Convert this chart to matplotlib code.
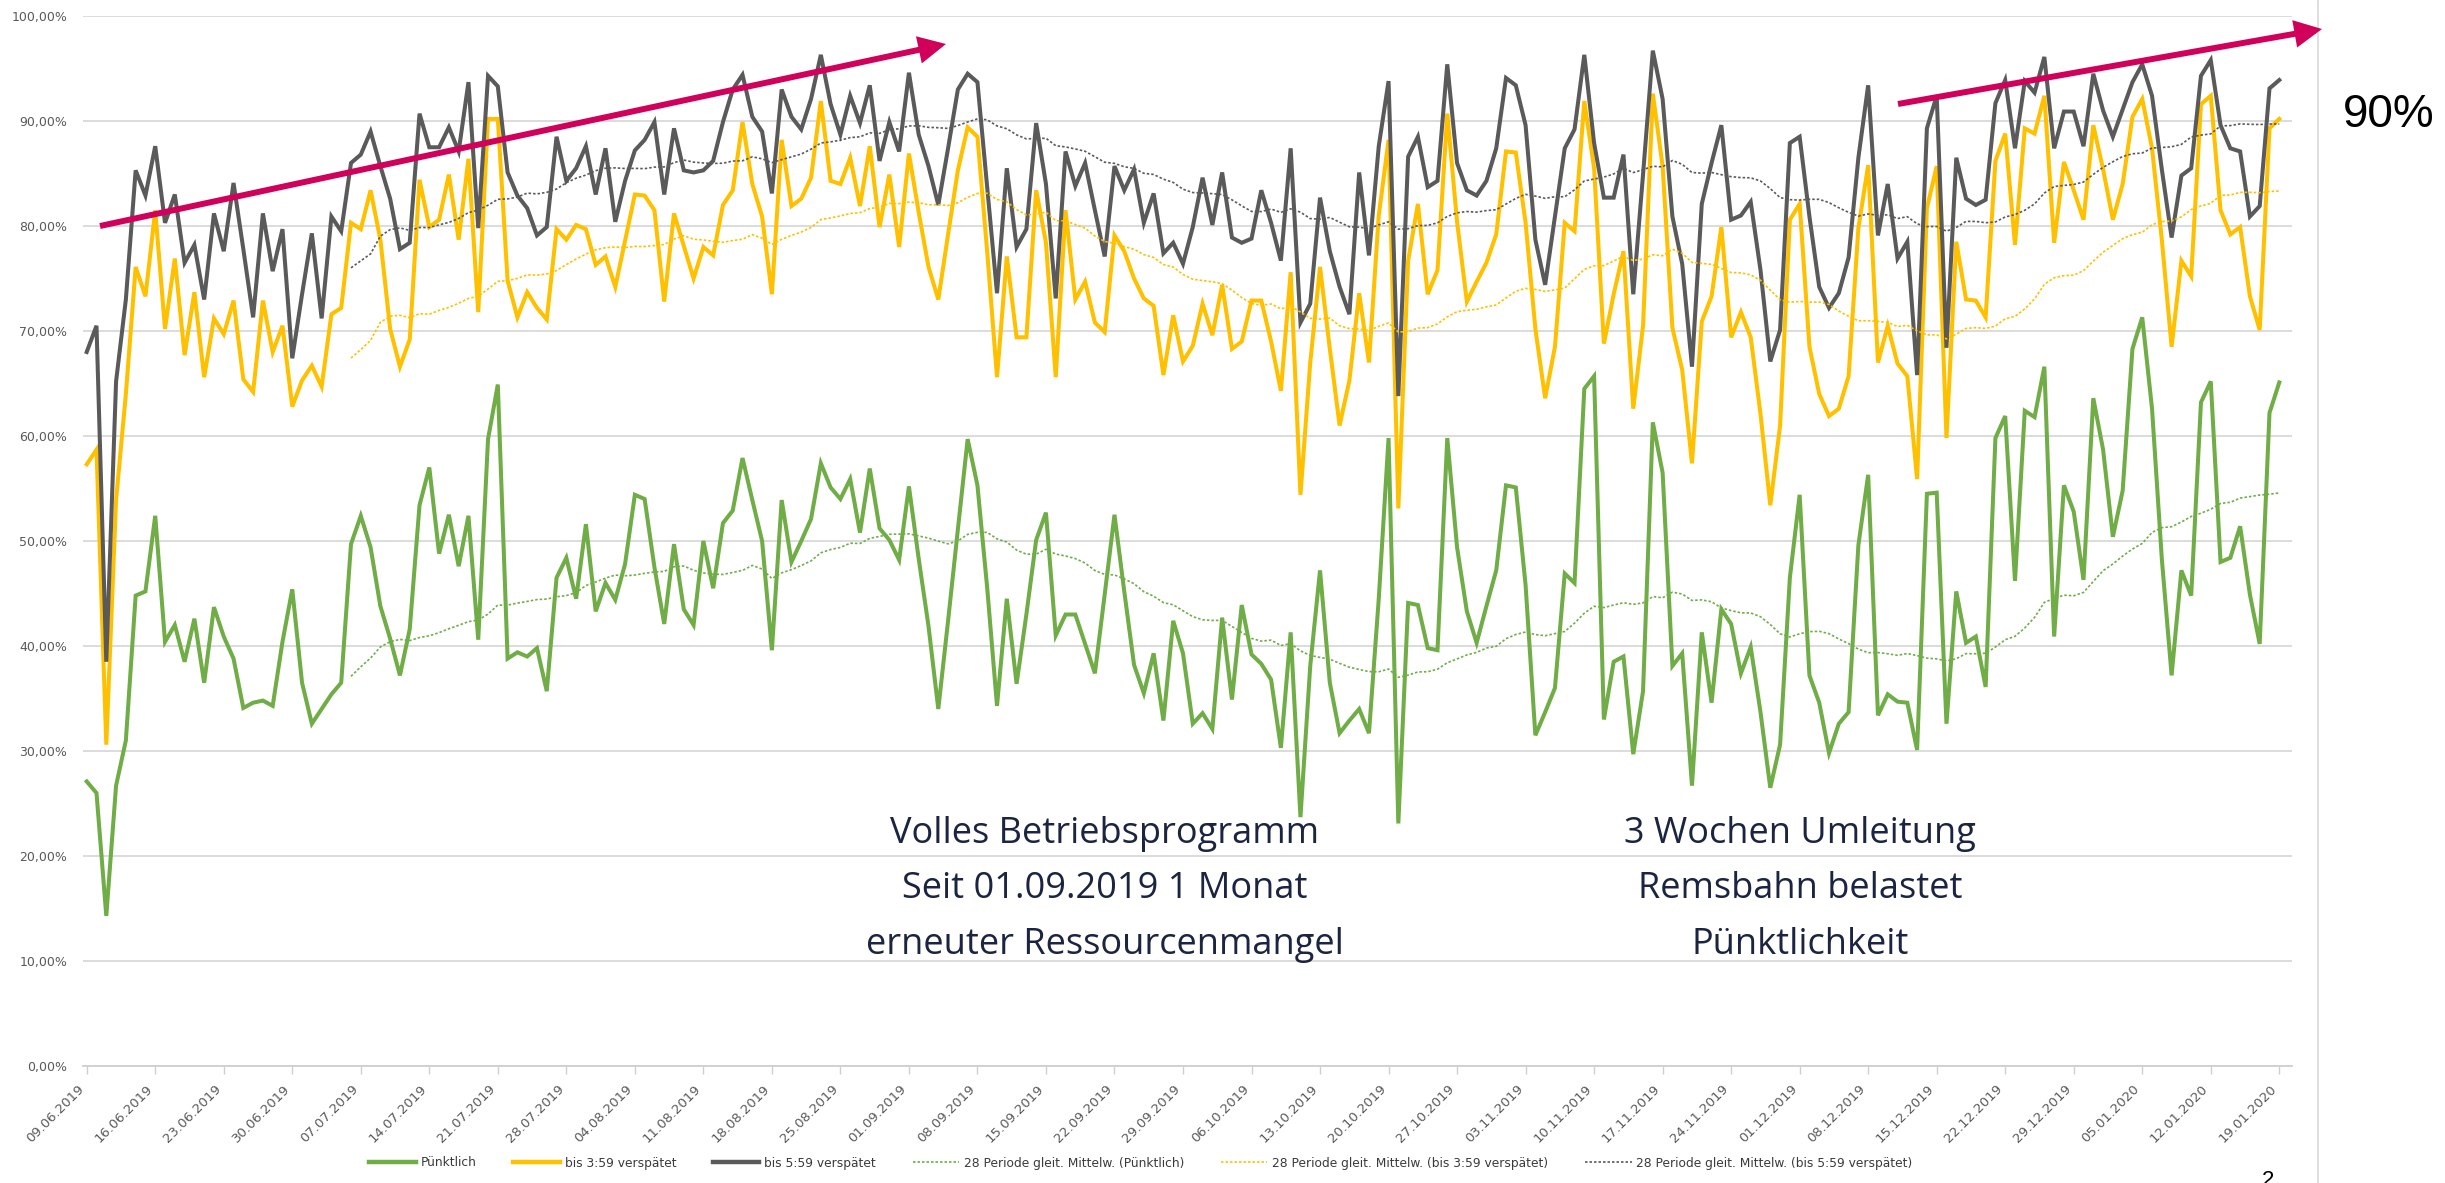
import numpy as np
import pandas as pd
import matplotlib
matplotlib.use("Agg")
import matplotlib.pyplot as plt
from matplotlib.patches import FancyArrowPatch
from matplotlib.lines import Line2D


# ======================================
# DATA (daily values in percent)
# ======================================

start_date = "2019-06-09"
n_days = 225

puenktlich = [
    27.1, 26.0, 14.3, 26.7, 31.0, 44.8, 45.2, 52.4, 40.4, 42.0,
    38.5, 42.6, 36.5, 43.7, 40.9, 38.8, 34.1, 34.6, 34.8, 34.3,
    40.4, 45.4, 36.5, 32.6, 34.0, 35.4, 36.5, 49.7, 52.4, 49.4,
    43.8, 40.7, 37.2, 41.6, 53.4, 57.0, 48.8, 52.5, 47.6, 52.4,
    40.6, 59.7, 64.9, 38.8, 39.4, 39.0, 39.8, 35.7, 46.5, 48.4,
    44.5, 51.6, 43.3, 46.0, 44.4, 47.8, 54.4, 54.0, 47.5, 42.1,
    49.7, 43.5, 42.0, 50.0, 45.5, 51.7, 52.9, 57.9, 53.9, 50.0,
    39.6, 53.9, 48.0, 50.0, 52.1, 57.4, 55.1, 54.0, 55.9, 50.8,
    56.9, 51.2, 50.1, 48.2, 55.2, 48.3, 41.9, 34.0, 42.4, 51.1,
    59.7, 55.3, 45.5, 34.3, 44.5, 36.4, 43.0, 50.1, 52.7, 41.0,
    43.0, 43.0, 40.2, 37.4, 44.9, 52.5, 45.2, 38.2, 35.5, 39.3,
    32.9, 42.4, 39.3, 32.6, 33.6, 32.1, 42.7, 34.9, 43.9, 39.2,
    38.3, 36.8, 30.3, 41.3, 23.7, 38.1, 47.2, 36.5, 31.7, 32.9,
    34.0, 31.7, 44.5, 59.8, 23.1, 44.1, 43.9, 39.8, 39.6, 59.8,
    49.4, 43.3, 40.3, 43.8, 47.2, 55.3, 55.1, 45.8, 31.5, 33.7,
    36.0, 46.9, 46.0, 64.5, 65.7, 33.0, 38.5, 39.0, 29.7, 35.7,
    61.3, 56.5, 38.1, 39.3, 26.7, 41.3, 34.6, 43.5, 42.1, 37.4,
    39.9, 33.7, 26.5, 30.6, 46.5, 54.4, 37.2, 34.6, 29.8, 32.6,
    33.7, 49.6, 56.3, 33.4, 35.4, 34.7, 34.6, 30.1, 54.5, 54.6,
    32.6, 45.2, 40.3, 40.9, 36.1, 59.8, 61.9, 46.2, 62.4, 61.8,
    66.6, 40.9, 55.3, 52.8, 46.3, 63.6, 58.7, 50.4, 54.8, 68.3,
    71.3, 62.6, 48.3, 37.2, 47.2, 44.8, 63.2, 65.2, 48.0, 48.4,
    51.4, 44.9, 40.2, 62.2, 65.1,
]

bis_359 = [
    57.3, 58.7, 30.6, 53.9, 64.0, 76.1, 73.3, 81.5, 70.2, 76.9,
    67.7, 73.7, 65.6, 71.2, 69.7, 72.9, 65.4, 64.2, 72.9, 68.0,
    70.5, 62.8, 65.3, 66.7, 64.7, 71.6, 72.2, 80.3, 79.7, 83.4,
    78.7, 70.2, 66.6, 69.2, 84.4, 79.9, 80.6, 84.9, 78.7, 86.4,
    71.8, 90.2, 90.2, 74.8, 71.3, 73.7, 72.2, 71.1, 79.7, 78.7,
    80.1, 79.7, 76.3, 77.1, 74.2, 78.6, 83.0, 82.9, 81.5, 72.8,
    81.2, 78.1, 75.0, 78.0, 77.2, 82.0, 83.4, 89.9, 84.0, 80.9,
    73.5, 88.2, 81.9, 82.6, 84.6, 91.9, 84.3, 84.0, 86.5, 81.9,
    87.6, 79.9, 84.9, 78.0, 86.9, 81.3, 76.1, 73.0, 79.2, 85.3,
    89.4, 88.5, 77.5, 65.6, 77.1, 69.4, 69.4, 83.4, 78.4, 65.6,
    81.5, 73.0, 74.7, 70.8, 69.9, 79.1, 77.6, 75.0, 73.1, 72.4,
    65.8, 71.5, 67.1, 68.6, 72.6, 69.6, 74.4, 68.3, 69.0, 72.9,
    72.9, 69.0, 64.3, 75.6, 54.4, 67.0, 76.1, 68.3, 61.0, 65.3,
    73.6, 67.0, 81.0, 88.2, 53.1, 76.7, 82.1, 73.5, 75.8, 90.7,
    80.4, 72.8, 74.7, 76.5, 79.2, 87.1, 87.0, 80.3, 70.2, 63.6,
    68.5, 80.3, 79.5, 91.9, 85.5, 68.8, 73.5, 77.6, 62.6, 70.5,
    92.6, 85.7, 70.3, 66.3, 57.4, 70.9, 73.3, 79.9, 69.4, 71.8,
    69.4, 62.1, 53.4, 61.0, 80.6, 82.1, 68.5, 64.0, 61.9, 62.6,
    65.7, 79.8, 85.8, 67.0, 70.5, 66.9, 65.7, 55.9, 81.7, 85.7,
    59.8, 78.5, 73.0, 72.9, 71.3, 86.2, 88.8, 78.2, 89.3, 88.8,
    92.4, 78.4, 86.1, 83.4, 80.6, 89.6, 85.4, 80.6, 84.0, 90.4,
    92.1, 87.4, 78.7, 68.5, 76.7, 75.2, 91.6, 92.4, 81.5, 79.2,
    79.9, 73.3, 70.1, 89.3, 90.2,
]

bis_559 = [
    68.0, 70.5, 38.5, 65.2, 73.0, 85.3, 82.9, 87.6, 80.3, 83.0,
    76.5, 78.2, 73.0, 81.2, 77.6, 84.1, 77.8, 71.3, 81.2, 75.7,
    79.7, 67.4, 73.5, 79.3, 71.2, 80.9, 79.5, 86.0, 86.8, 89.0,
    85.7, 82.6, 77.8, 78.4, 90.7, 87.5, 87.5, 89.4, 87.1, 93.7,
    79.8, 94.3, 93.3, 85.1, 82.9, 81.7, 79.1, 79.9, 88.5, 84.3,
    85.5, 87.6, 83.0, 87.4, 80.4, 84.3, 87.2, 88.2, 89.9, 83.0,
    89.3, 85.3, 85.1, 85.3, 86.2, 89.9, 93.0, 94.4, 90.4, 89.0,
    83.1, 93.0, 90.4, 89.2, 92.1, 96.3, 91.6, 88.7, 92.4, 89.8,
    93.4, 86.2, 89.9, 87.1, 94.6, 88.7, 85.7, 82.0, 87.4, 93.0,
    94.5, 93.7, 83.7, 73.6, 85.5, 78.0, 79.7, 89.8, 84.0, 73.1,
    87.1, 83.8, 86.0, 81.5, 77.1, 85.7, 83.4, 85.4, 80.3, 83.1,
    77.4, 78.4, 76.4, 79.9, 84.6, 80.1, 85.1, 78.9, 78.4, 78.8,
    83.4, 80.3, 76.7, 87.4, 70.8, 72.6, 82.7, 77.6, 74.2, 71.6,
    85.1, 77.2, 87.6, 93.8, 63.8, 86.6, 88.5, 83.7, 84.3, 95.4,
    86.0, 83.4, 82.9, 84.3, 87.4, 94.1, 93.4, 89.6, 78.7, 74.4,
    80.9, 87.4, 89.2, 96.3, 87.9, 82.7, 82.7, 86.8, 73.5, 84.9,
    96.7, 92.1, 80.9, 76.4, 66.6, 82.1, 86.0, 89.6, 80.6, 81.0,
    82.3, 75.8, 67.1, 70.1, 87.9, 88.5, 80.9, 74.2, 72.2, 73.6,
    77.0, 86.5, 93.4, 79.1, 84.0, 76.9, 78.5, 65.8, 89.3, 92.4,
    68.4, 86.5, 82.6, 82.0, 82.5, 91.7, 93.9, 87.4, 93.8, 92.7,
    96.1, 87.4, 90.9, 90.9, 87.6, 94.5, 91.0, 88.5, 91.1, 93.7,
    95.4, 92.4, 85.4, 78.9, 84.8, 85.5, 94.3, 95.8, 89.6, 87.4,
    87.1, 80.9, 81.9, 93.1, 93.9,
]

series_names = [
    "Pünktlich",
    "bis 3:59 verspätet",
    "bis 5:59 verspätet",
]

series_colors = ["#70AD47", "#FFC000", "#5A5A5A"]

note_left = [
    "Volles Betriebsprogramm",
    "Seit 01.09.2019 1 Monat",
    "erneuter Ressourcenmangel",
]

note_right = [
    "3 Wochen Umleitung",
    "Remsbahn belastet",
    "Pünktlichkeit",
]

ma_window = 28

dates = pd.date_range(start_date, periods=n_days, freq="D")
days = np.arange(n_days)

df = pd.DataFrame(
    {
        series_names[0]: puenktlich,
        series_names[1]: bis_359,
        series_names[2]: bis_559,
    },
    index=days
)

ma = df.rolling(ma_window).mean()

# ======================================
# FIGURE
# ======================================

W, H = 2445, 1183

fig = plt.figure(figsize=(W / 100, H / 100), dpi=100)
fig.patch.set_facecolor("white")

ax = fig.add_axes([
    82.6 / W,
    1 - 1066 / H,
    (2292 - 82.6) / W,
    (1066 - 16) / H
])

grid_color = "#D9D9D9"
label_color = "#595959"

for name, color in zip(series_names, series_colors):
    ax.plot(
        days,
        df[name],
        color=color,
        linewidth=2.9,
        solid_joinstyle="miter",
        zorder=3
    )

for name, color in zip(series_names, series_colors):
    ax.plot(
        days,
        ma[name],
        color=color,
        linewidth=1.2,
        linestyle=(0, (1.5, 1.2)),
        zorder=4
    )

ax.set_xlim(-0.42, 225.3)
ax.set_ylim(0, 100)

yticks = np.arange(0, 101, 10)
ax.set_yticks(yticks)
ax.set_yticklabels(
    [f"{v:.2f}%".replace(".", ",") for v in yticks],
    fontsize=9,
    color=label_color
)

xticks = days[::7]
ax.set_xticks(xticks)
ax.set_xticklabels(
    [dates[i].strftime("%d.%m.%Y") for i in xticks],
    rotation=45,
    ha="right",
    va="top",
    fontsize=9.5,
    color=label_color
)

ax.grid(axis="y", color=grid_color, linewidth=1.3, zorder=0)
ax.set_axisbelow(True)

for side in ["top", "right", "left"]:
    ax.spines[side].set_visible(False)

ax.spines["bottom"].set_color("#CFCFCF")
ax.spines["bottom"].set_linewidth(1.3)

ax.tick_params(axis="y", length=0, pad=11)
ax.tick_params(
    axis="x",
    direction="out",
    length=6,
    width=1.0,
    color="#CFCFCF",
    pad=6
)

# ======================================
# LEGEND
# ======================================

handles = []
labels = []

for name, color in zip(series_names, series_colors):
    handles.append(Line2D([], [], color=color, linewidth=3.2))
    labels.append(name)

for name, color in zip(series_names, series_colors):
    handles.append(
        Line2D([], [], color=color, linewidth=1.2,
               linestyle=(0, (1.5, 1.2)))
    )
    labels.append(f"{ma_window} Periode gleit. Mittelw. ({name})")

fig.legend(
    handles,
    labels,
    loc="center",
    bbox_to_anchor=(1141 / W, 1 - 1163 / H),
    ncol=6,
    frameon=False,
    fontsize=8.8,
    handlelength=3.8,
    handletextpad=0.4,
    columnspacing=3.0,
    labelcolor="#3A3A3A"
)

# ======================================
# ANNOTATIONS
# ======================================

note_color = "#1B2440"

for i, line in enumerate(note_left):
    fig.text(
        1105 / W,
        1 - (834 + 55.5 * i) / H,
        line,
        ha="center",
        va="center",
        fontsize=26,
        family="Open Sans",
        color=note_color
    )

for i, line in enumerate(note_right):
    fig.text(
        1800 / W,
        1 - (834 + 55.5 * i) / H,
        line,
        ha="center",
        va="center",
        fontsize=26,
        family="Open Sans",
        color=note_color
    )

arrow_color = "#D1005A"

for (x0, y0), (x1, y1) in [((100, 226), (946, 44)),
                           ((1898, 104), (2322, 29))]:
    arrow = FancyArrowPatch(
        (x0 / W, 1 - y0 / H),
        (x1 / W, 1 - y1 / H),
        transform=fig.transFigure,
        arrowstyle="-|>,head_length=1.0,head_width=0.5",
        mutation_scale=13,
        linewidth=4.3,
        color=arrow_color,
        shrinkA=0,
        shrinkB=0,
        joinstyle="miter",
        capstyle="butt",
        zorder=10
    )
    fig.add_artist(arrow)

fig.add_artist(
    Line2D([2318 / W, 2318 / W], [0, 1],
           transform=fig.transFigure,
           color="#D9D9D9", linewidth=1.2)
)

fig.text(
    2343 / W,
    1 - 115 / H,
    "90%",
    ha="left",
    va="center",
    fontsize=33,
    family="Liberation Sans",
    color="black"
)

# page number, only its top shows at the bottom edge
fig.text(
    2268 / W,
    0.002,
    "2",
    ha="center",
    va="center",
    fontsize=16,
    family="Liberation Sans",
    color="black"
)

fig.savefig("out.png", dpi=100)
